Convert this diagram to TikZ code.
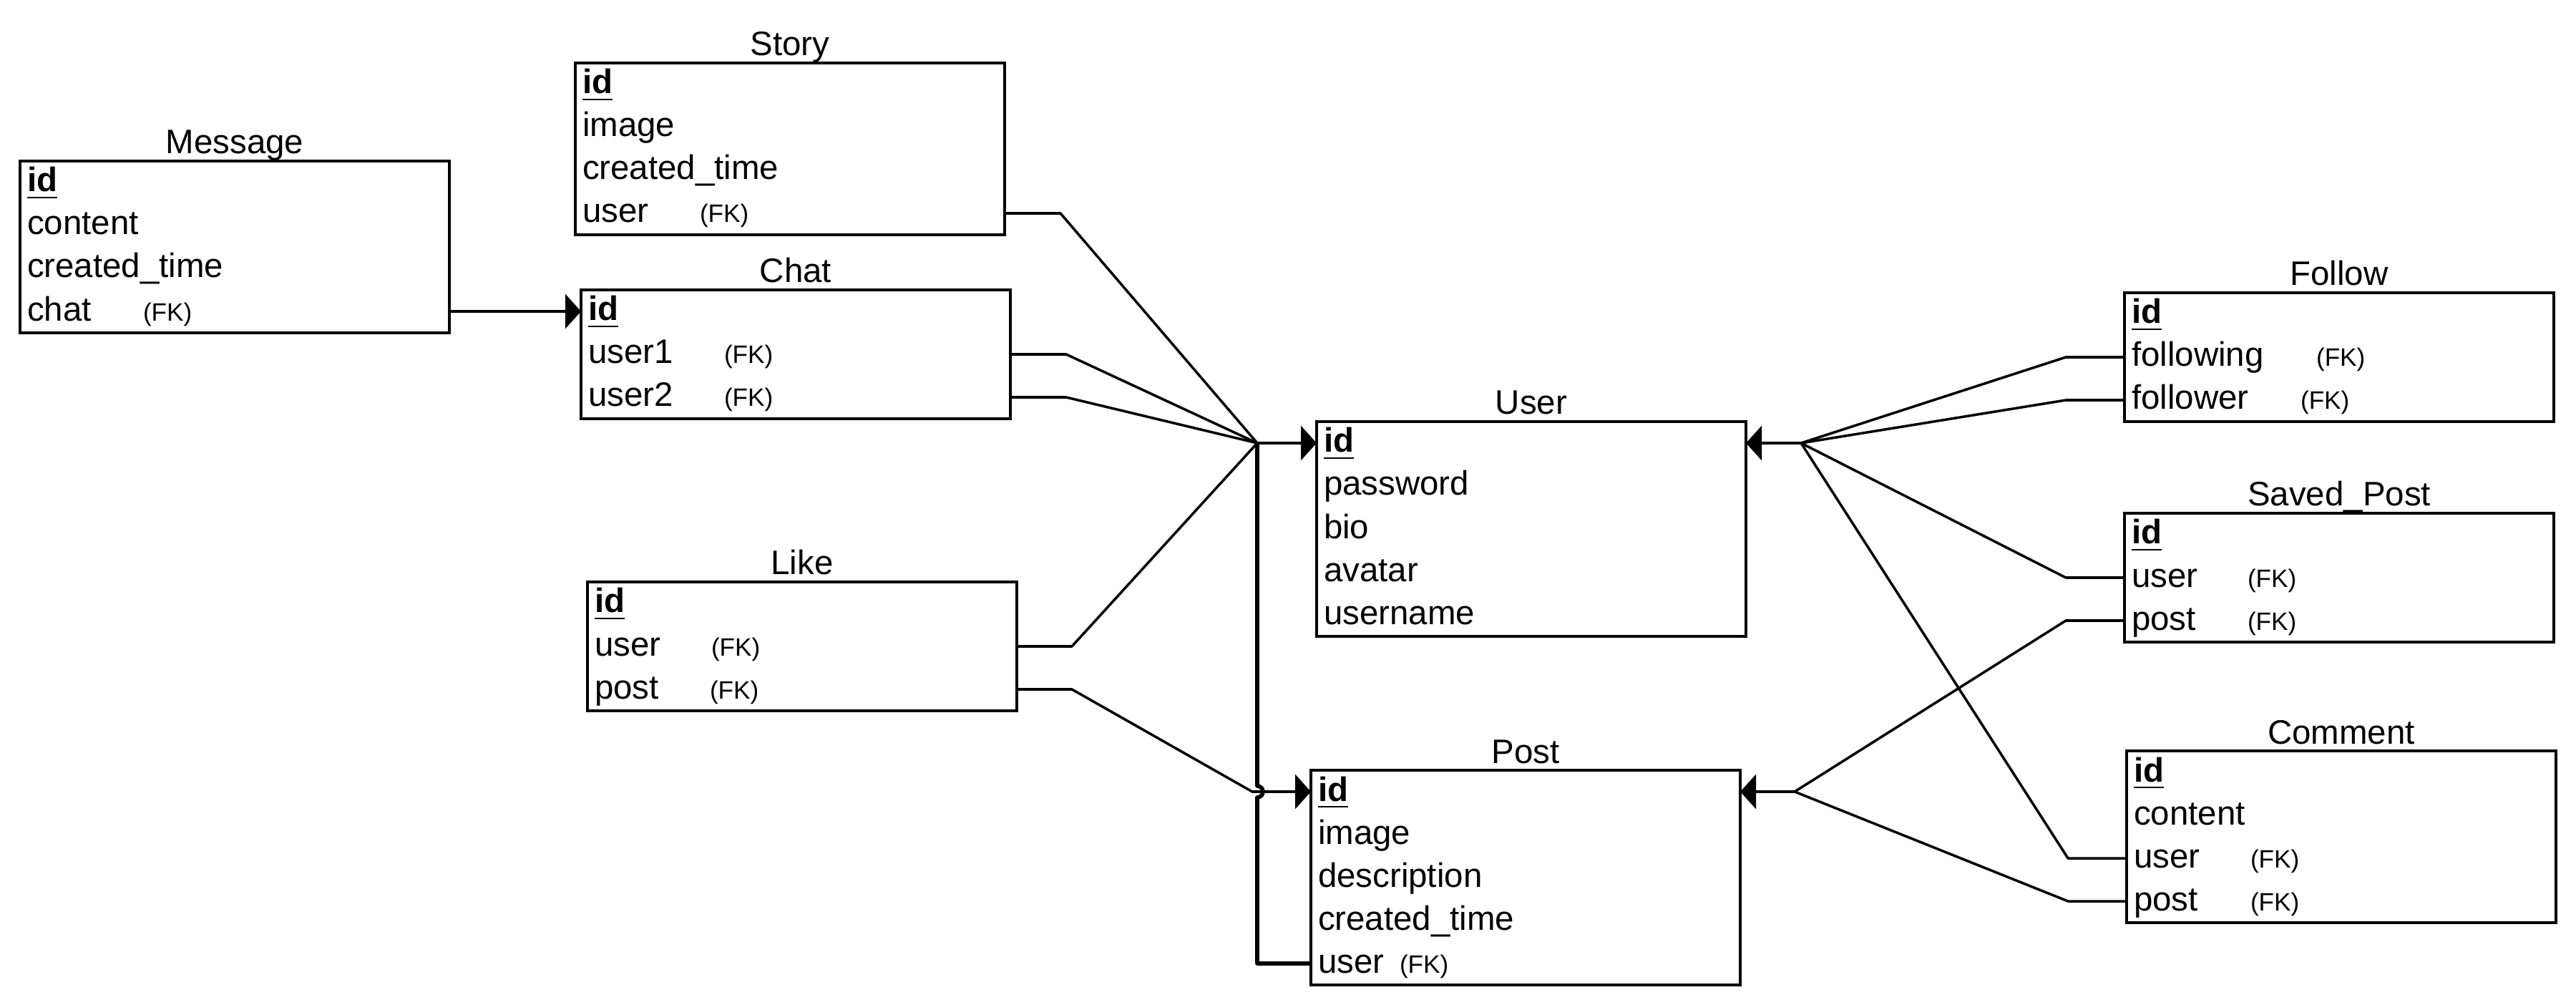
\documentclass[tikz,border=0pt]{standalone}
\usepackage{fontspec}
\setmainfont{Liberation Sans}
\usetikzlibrary{arrows.meta, positioning}

\newcommand{\fksize}{\fontsize{10}{12}\selectfont}
\newcommand{\fkey}[2]{\makebox[#1][l]{#2}{\fksize (FK)}}
\newcommand{\pkey}{\setbox0=\hbox{\textbf{id}}\rlap{\rule[-2.7pt]{\wd0}{0.8pt}}\box0}

\begin{document}
\begin{tikzpicture}
			\tikzset {node distance=0pt,
				field/.style={text width=5.8cm, inner xsep=0.1cm, inner ysep=0.07cm, outer sep=0pt, text height=0.36cm, text depth=0.1cm, align=left, font=\fontsize{13.5}{16}\selectfont},
				tabletitle/.style={anchor=base, inner sep=0pt, font=\fontsize{13.5}{16}\selectfont},
				table/.style={draw, line width=1.2pt},
				link/.style={line width=1pt, line join=round},
				fk arrow/.style={link, -{Triangle[length=0.22cm, width=0.48cm]}} }

			\useasboundingbox (0,0) rectangle (36,-14.04);

			\node[field, anchor=north west] (msgid) at (0.28,-2.25) {\pkey};
			\node[field] (msgcontent) [below=of msgid] {content};
			\node[field] (msgtime) [below=of msgcontent] {created\_time};
			\node[field] (msgchat) [below=of msgtime] {\fkey{1.62cm}{chat}};
			\node (msgtitle) [above=0.1cm of msgid.north, tabletitle] {Message};
			\draw[table] (msgid.north west) rectangle (msgchat.south east);

			\node[field, anchor=north west] (storyid) at (8.04,-0.88) {\pkey};
			\node[field] (storyimage) [below=of storyid] {image};
			\node[field] (storytime) [below=of storyimage] {created\_time};
			\node[field] (storyuser) [below=of storytime] {\fkey{1.64cm}{user}};
			\node (storytitle) [above=0.1cm of storyid.north, tabletitle] {Story};
			\draw[table] (storyid.north west) rectangle (storyuser.south east);

			\node[field, anchor=north west] (chatid) at (8.12,-4.05) {\pkey};
			\node[field] (chatuserA) [below=of chatid] {\fkey{1.9cm}{user1}};
			\node[field] (chatuserB) [below=of chatuserA] {\fkey{1.9cm}{user2}};
			\node (chattitle) [above=0.1cm of chatid.north, tabletitle] {Chat};
			\draw[table] (chatid.north west) rectangle (chatuserB.south east);

			\node[field, anchor=north west] (likeid) at (8.21,-8.13) {\pkey};
			\node[field] (likeuser) [below=of likeid] {\fkey{1.63cm}{user}};
			\node[field] (likepost) [below=of likeuser] {\fkey{1.61cm}{post}};
			\node (liketitle) [above=0.1cm of likeid.north, tabletitle] {Like};
			\draw[table] (likeid.north west) rectangle (likepost.south east);

			\node[field, anchor=north west] (userid) at (18.40,-5.89) {\pkey};
			\node[field] (userpass) [below=of userid] {password};
			\node[field] (userbio) [below=of userpass] {bio};
			\node[field] (useravatar) [below=of userbio] {avatar};
			\node[field] (username) [below=of useravatar] {username};
			\node (usertitle) [above=0.1cm of userid.north, tabletitle] {User};
			\draw[table] (userid.north west) rectangle (username.south east);

			\node[field, anchor=north west] (postid) at (18.32,-10.76) {\pkey};
			\node[field] (postimage) [below=of postid] {image};
			\node[field] (postdesc) [below=of postimage] {description};
			\node[field] (posttime) [below=of postdesc] {created\_time};
			\node[field] (postuser) [below=of posttime] {\fkey{1.14cm}{user}};
			\node (posttitle) [above=0.1cm of postid.north, tabletitle] {Post};
			\draw[table] (postid.north west) rectangle (postuser.south east);

			\node[field, anchor=north west] (followid) at (29.69,-4.09) {\pkey};
			\node[field] (following) [below=of followid] {\fkey{2.58cm}{following}};
			\node[field] (follower) [below=of following] {\fkey{2.36cm}{follower}};
			\node (followtitle) [above=0.1cm of followid.north, tabletitle] {Follow};
			\draw[table] (followid.north west) rectangle (follower.south east);

			\node[field, anchor=north west] (savedid) at (29.69,-7.17) {\pkey};
			\node[field] (saveduser) [below=of savedid] {\fkey{1.62cm}{user}};
			\node[field] (savedpost) [below=of saveduser] {\fkey{1.62cm}{post}};
			\node (savedtitle) [above=0.1cm of savedid.north, tabletitle] {Saved\_Post};
			\draw[table] (savedid.north west) rectangle (savedpost.south east);

			\node[field, anchor=north west] (commentid) at (29.72,-10.49) {\pkey};
			\node[field] (commentcontent) [below=of commentid] {content};
			\node[field] (commentuser) [below=of commentcontent] {\fkey{1.63cm}{user}};
			\node[field] (commentpost) [below=of commentuser] {\fkey{1.63cm}{post}};
			\node (commenttitle) [above=0.1cm of commentid.north, tabletitle] {Comment};
			\draw[table] (commentid.north west) rectangle (commentpost.south east);

			\coordinate[left=0.83cm of userid.west] (jU);
			\coordinate[right=0.77cm of userid.east] (jUR);
			\coordinate[right=0.76cm of postid.east] (jPR);
			\coordinate (hopC) at (jU |- postid.west);
			\coordinate[below=0.08cm of hopC] (hopB);
			\coordinate[left=0.82cm of postid.west] (hopL);

			\draw[fk arrow] (msgchat.east) -- (chatid.west);
			\draw[link] (storyuser.east) -- ++(0.78,0) -- (jU);
			\draw[link] (chatuserA.east) -- ++(0.78,0) -- (jU);
			\draw[link] (chatuserB.east) -- ++(0.78,0) -- (jU);
			\draw[link] (likeuser.east) -- ++(0.77,0) -- (jU);
			\draw[link, line width=1.6pt] (postuser.west) -| (hopB) arc[start angle=-90, end angle=90, radius=0.08cm] -- (jU);
			\draw[fk arrow] (jU) -- (userid.west);
			\draw[fk arrow] (likepost.east) -- ++(0.77,0) -- (hopL) -- (postid.west);

			\draw[link] (following.west) -- ++(-0.82,0) -- (jUR);
			\draw[link] (follower.west) -- ++(-0.82,0) -- (jUR);
			\draw[link] (saveduser.west) -- ++(-0.82,0) -- (jUR);
			\draw[link] (commentuser.west) -- ++(-0.82,0) -- (jUR);
			\draw[fk arrow] (jUR) -- (userid.east);
			\draw[link] (savedpost.west) -- ++(-0.82,0) -- (jPR);
			\draw[link] (commentpost.west) -- ++(-0.82,0) -- (jPR);
			\draw[fk arrow] (jPR) -- (postid.east);

		\end{tikzpicture}
\end{document}
